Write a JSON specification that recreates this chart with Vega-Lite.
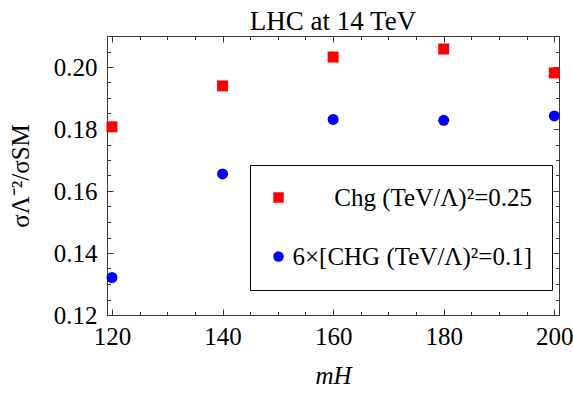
{
  "$schema": "https://vega.github.io/schema/vega-lite/v6.json",
  "width": 452,
  "height": 279,
  "autosize": {"type": "none"},
  "padding": {"left": 107, "top": 36, "right": 14, "bottom": 81},
  "background": "white",
  "title": {"text": "LHC at 14 TeV", "font": "Liberation Serif", "fontSize": 27, "fontWeight": "normal", "color": "black", "offset": 0},
  "config": {
    "font": "Liberation Serif",
    "view": {"stroke": "#3a3a3a", "strokeWidth": 1},
    "axis": {"domain": false, "grid": false, "tickColor": "#3a3a3a", "tickWidth": 1, "labelOverlap": false, "labelFlush": false}
  },
  "data": {"values": [
    {"mH": 120, "ratio": 0.1807, "series": "Chg (TeV/Λ)²=0.25"},
    {"mH": 140, "ratio": 0.1939, "series": "Chg (TeV/Λ)²=0.25"},
    {"mH": 160, "ratio": 0.2032, "series": "Chg (TeV/Λ)²=0.25"},
    {"mH": 180, "ratio": 0.2058, "series": "Chg (TeV/Λ)²=0.25"},
    {"mH": 200, "ratio": 0.1981, "series": "Chg (TeV/Λ)²=0.25"},
    {"mH": 120, "ratio": 0.1321, "series": "6×[CHG (TeV/Λ)²=0.1]"},
    {"mH": 140, "ratio": 0.1655, "series": "6×[CHG (TeV/Λ)²=0.1]"},
    {"mH": 160, "ratio": 0.1831, "series": "6×[CHG (TeV/Λ)²=0.1]"},
    {"mH": 180, "ratio": 0.1828, "series": "6×[CHG (TeV/Λ)²=0.1]"},
    {"mH": 200, "ratio": 0.1842, "series": "6×[CHG (TeV/Λ)²=0.1]"}
  ]},
  "layer": [
    {
      "mark": {"type": "point", "filled": true, "opacity": 1, "size": 121, "strokeWidth": 0},
      "encoding": {
        "x": {"field": "mH", "type": "quantitative", "scale": {"domain": [119.1, 200.85], "nice": false, "zero": false},
              "axis": {"orient": "bottom", "values": [120, 140, 160, 180, 200], "tickSize": -6, "labelPadding": 15, "labelFont": "Liberation Serif", "labelFontSize": 25, "labelColor": "black", "title": "mH", "titleFont": "Liberation Serif", "titleFontWeight": "normal", "titleColor": "black", "titleFontStyle": "italic", "titleFontSize": 25, "titlePadding": 14}},
        "y": {"field": "ratio", "type": "quantitative", "scale": {"domain": [0.12, 0.21], "nice": false, "zero": false},
              "axis": {"orient": "left", "values": [0.12, 0.14, 0.16, 0.18, 0.2], "format": ".2f", "tickSize": -6, "labelPadding": 16, "labelFont": "Liberation Serif", "labelFontSize": 25, "labelColor": "black", "title": "σΛ⁻²/σSM", "titleFont": "Liberation Serif", "titleFontWeight": "normal", "titleColor": "black", "titleFontSize": 25, "titlePadding": 20}},
        "color": {"field": "series", "type": "nominal", "scale": {"domain": ["Chg (TeV/Λ)²=0.25", "6×[CHG (TeV/Λ)²=0.1]"], "range": ["#ff0000", "#0000ff"]},
                  "legend": {"title": null, "orient": "none", "legendX": 143, "legendY": 129, "strokeColor": "black", "fillColor": "white", "padding": 20, "labelFont": "Liberation Serif", "labelFontSize": 25, "labelColor": "black", "labelLimit": 500, "labelAlign": "right", "labelOffset": 241, "symbolSize": 110, "symbolStrokeWidth": 0, "symbolOffset": -4, "rowPadding": 33}},
        "shape": {"field": "series", "type": "nominal", "scale": {"domain": ["Chg (TeV/Λ)²=0.25", "6×[CHG (TeV/Λ)²=0.1]"], "range": ["square", "circle"]}}
      }
    },
    {
      "mark": {"type": "point", "opacity": 0},
      "encoding": {
        "x": {"field": "mH", "type": "quantitative", "axis": {"orient": "bottom", "values": [120,125,130,135,140,145,150,155,160,165,170,175,180,185,190,195,200], "tickSize": -3.5, "labels": false, "title": null}},
        "y": {"field": "ratio", "type": "quantitative", "axis": {"orient": "left", "values": [0.12,0.125,0.13,0.135,0.14,0.145,0.15,0.155,0.16,0.165,0.17,0.175,0.18,0.185,0.19,0.195,0.2,0.205,0.21], "tickSize": -3.5, "labels": false, "title": null}}
      }
    },
    {
      "mark": {"type": "point", "opacity": 0},
      "encoding": {
        "x": {"field": "mH", "type": "quantitative", "axis": {"orient": "top", "values": [120, 140, 160, 180, 200], "tickSize": -6, "labels": false, "title": null}},
        "y": {"field": "ratio", "type": "quantitative", "axis": {"orient": "right", "values": [0.12, 0.14, 0.16, 0.18, 0.2], "tickSize": -6, "labels": false, "title": null}}
      }
    },
    {
      "mark": {"type": "point", "opacity": 0},
      "encoding": {
        "x": {"field": "mH", "type": "quantitative", "axis": {"orient": "top", "values": [120,125,130,135,140,145,150,155,160,165,170,175,180,185,190,195,200], "tickSize": -3.5, "labels": false, "title": null}},
        "y": {"field": "ratio", "type": "quantitative", "axis": {"orient": "right", "values": [0.12,0.125,0.13,0.135,0.14,0.145,0.15,0.155,0.16,0.165,0.17,0.175,0.18,0.185,0.19,0.195,0.2,0.205,0.21], "tickSize": -3.5, "labels": false, "title": null}}
      }
    }
  ],
  "resolve": {"axis": {"x": "independent", "y": "independent"}}
}
